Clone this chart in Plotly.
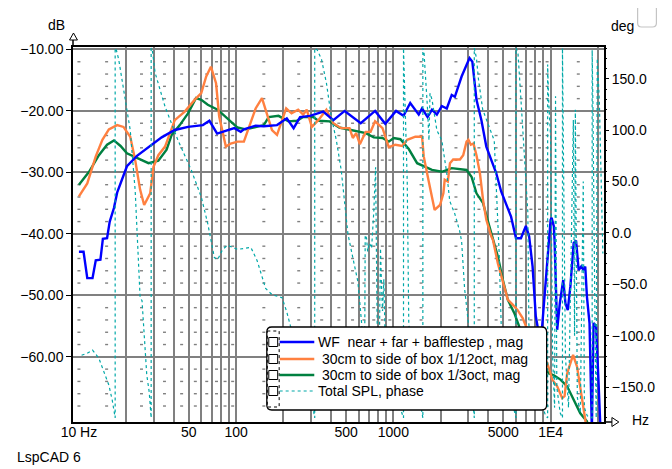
import plotly.graph_objects as go

# --- data ---
wf_freq = [10.0, 10.7, 11.3, 12.2, 12.8, 13.7, 14.2, 15.1, 15.7, 16.7, 17.5, 18.8, 20.2, 23.4,
           27.0, 33.6, 40.7, 49.4, 61.4, 67.6, 75.7, 88.2, 97.3, 107, 112, 133, 150, 182, 210,
           232, 255, 295, 358, 415, 490, 620, 765, 888, 1040, 1160, 1280, 1450, 1522, 1650,
           1760, 1890, 2033, 2186, 2350, 2460, 2716, 3050, 3180, 3377, 3630, 3900, 4194, 4508,
           4848, 5212, 5603, 6024, 6476, 6962, 7300, 7680, 8049, 8651, 9302, 9760, 10000,
           10150, 10490, 10600, 10750, 11010, 11440, 12030, 12427, 12860, 13362, 14020, 14520,
           15080, 15670, 16200, 16608, 17020, 17680, 18300, 18760, 19460, 20110, 21000]
wf_mag = [-42.9, -42.9, -47.2, -47.2, -44.3, -44.2, -40.8, -40.7, -38.0, -35.8, -33.3, -31.2,
          -29.0, -27.3, -26.1, -24.3, -23.1, -22.6, -22.3, -21.6, -23.7, -23.1, -22.8, -23.4,
          -23.0, -22.4, -22.5, -22.3, -21.2, -22.8, -21.0, -20.8, -20.1, -21.5, -20.0, -22.0,
          -20.0, -22.1, -20.0, -20.8, -18.7, -20.6, -19.6, -21.0, -19.8, -20.6, -19.2, -19.6,
          -17.4, -17.7, -14.4, -11.4, -12.0, -18.2, -21.5, -25.8, -28.0, -30.1, -33.1, -35.0,
          -37.2, -40.7, -40.7, -38.7, -40.4, -45.3, -53.4, -58.0, -48.5, -41.0, -37.7, -37.4,
          -38.8, -41.1, -48.5, -55.6, -51.3, -47.5, -51.3, -52.4, -48.5, -41.5, -41.1, -45.9,
          -45.3, -45.9, -45.3, -50.2, -54.5, -72.0, -54.5, -55.1, -63.2, -75.0]

side12_freq = [10.0, 11.3, 12.8, 14.1, 15.5, 17.5, 19.2, 21.2, 22.8, 24.5, 26.0, 28.4, 29.8,
               32.0, 35.3, 40.7, 47.1, 54.4, 60.0, 64.5, 69.1, 74.5, 78, 86, 92.4, 102, 112,
               123, 133, 146, 157, 169, 182, 196, 208, 225, 248, 267, 281, 303, 333, 375, 415,
               466, 526, 552, 580, 612, 667, 716, 765, 853, 935, 1029, 1139, 1225, 1380, 1522,
               1560, 1670, 1830, 1980, 2080, 2120, 2220, 2290, 2400, 2650, 2780, 2920, 3000,
               3110, 3230, 3377, 3550, 3720, 3900, 4194, 4300, 4620, 4970, 5340, 5740, 6170,
               6640, 6962, 7500, 8500, 9530, 10250, 11010, 11850, 12270, 12740, 13900, 14730,
               15830, 16608, 17200]
side12_mag = [-33.9, -31.8, -27.4, -24.7, -23.0, -22.3, -22.6, -24.2, -28.0, -32.8, -35.3,
              -33.4, -29.1, -27.2, -25.8, -21.5, -20.1, -18.2, -17.1, -14.4, -12.8, -15.5,
              -20.9, -25.8, -25.3, -25.0, -25.0, -22.0, -19.6, -17.9, -20.4, -23.1, -23.9,
              -21.5, -19.6, -20.4, -19.8, -20.6, -19.8, -22.6, -21.5, -19.8, -22.0, -22.8,
              -22.8, -24.4, -23.6, -25.4, -23.4, -23.4, -21.7, -22.8, -25.9, -25.5, -25.7,
              -24.7, -24.2, -24.2, -27.4, -31.2, -36.1, -35.3, -33.4, -31.2, -31.5, -28.5,
              -27.9, -27.9, -27.2, -25.0, -24.7, -25.5, -25.3, -27.2, -30.1, -34.5, -37.7,
              -40.4, -41.0, -44.8, -48.0, -50.7, -51.5, -52.4, -53.7, -55.1, -57.0, -59.5,
              -61.0, -63.7, -64.8, -66.7, -66.4, -62.7, -59.7, -61.6, -66.4, -70.2, -73.0]

side3_freq = [10.0, 11.6, 13.4, 15.1, 16.7, 18.4, 20.2, 23.4, 27.7, 32.0, 36.1, 38.9, 43.8,
              49.4, 55.6, 60.0, 66.0, 76.3, 88.2, 102, 115, 133, 150, 161, 186, 215, 243, 267,
              310, 333, 394, 453, 566, 667, 750, 853, 935, 1005, 1108, 1253, 1416, 1605, 1760,
              2033, 2250, 2350, 2920, 3141, 3377, 3720, 4000, 4194, 4620, 4970, 5340, 5880,
              6320, 7000, 8000, 9000, 9760, 10490, 11558, 12740, 14020, 15446, 17020, 17600]
side3_mag = [-32.0, -29.9, -27.2, -25.5, -24.8, -25.7, -26.9, -27.7, -28.5, -28.1, -26.3,
             -23.9, -22.3, -20.4, -17.9, -18.2, -19.0, -19.8, -21.2, -22.7, -23.0, -22.6,
             -22.3, -21.0, -20.8, -21.7, -21.6, -21.0, -21.0, -21.6, -21.7, -22.7, -23.2,
             -23.6, -24.3, -24.4, -25.0, -24.4, -24.6, -26.2, -28.5, -29.1, -29.6, -29.9,
             -29.5, -29.3, -29.6, -30.7, -33.4, -35.0, -38.0, -39.9, -43.7, -47.5, -50.7,
             -52.9, -55.1, -57.5, -59.8, -61.5, -62.7, -63.0, -63.7, -64.8, -67.0, -69.2,
             -70.5, -72.0]

# total SPL phase, wrapped at +/-180 (repeated frequency = wrap)
phase_freq = [10.4, 11.3, 12.2, 13.4, 14.4, 15.5, 16.3, 16.7, 17.0, 17.0, 17.3, 17.9, 20.2,
              21.2, 22.8, 24.5, 25.2, 26.4, 27.0, 28.0, 28.4, 28.8, 28.8, 29.3, 30.5, 35.3,
              42.7, 51.9, 60.0, 66.0, 72.7, 76.3, 82, 88.2, 95, 102, 124, 136, 154, 169, 196,
              210, 221, 250, 280, 300, 316, 316, 328, 349, 375, 403, 434, 466, 490, 514, 552,
              594, 608, 623, 638, 648, 657, 662, 675, 686, 700, 716, 727, 750, 771, 785, 793,
              810, 828, 840, 853, 870, 888, 950, 1050, 1140, 1160, 1160, 1190, 1225, 1253,
              1300, 1400, 1500, 1540, 1540, 1567, 1650, 1684, 1710, 1760, 1891, 2033, 2186,
              2283, 2454, 2638, 2716, 2837, 3006, 3150, 3270, 3270, 3377, 3475, 3700, 4380,
              4709, 4848, 5400, 6024, 6024, 6201, 6476, 6666, 7167, 7272, 8049, 9302, 9575,
              9575, 9714, 10000, 10300, 10600, 10750, 10950, 11500, 11898, 11898, 12100,
              12427, 13000, 13955, 14200, 14366, 14789, 15446, 16133, 16400, 17097, 18381,
              18381, 18600, 19188, 19500, 19800, 20400, 21500]
phase_deg = [-119, -117, -114, -122, -135, -148, -163, -176, -180, 180, 178, 169, 120, 100,
             41, -63, -66, -109, -138, -155, -171, -180, 180, 178, 156, 123, 90, 61, 35, 9,
             -24, -26, -16, -12, -14, -16, -14, -27, -54, -60, -63, -77, -90, -115, -140,
             -160, -180, 180, 178, 169, 146, 113, 90, 61, 32, -1, -24, -47, -63, -79, -100,
             -130, -110, -2, -5, -18, -10, -12, -15, 20, 64, -60, -120, -140, -15, -50, -76,
             -45, -110, -140, -160, -175, -180, 180, 120, 50, -89, -110, -140, -170, -180,
             180, 175, 120, 90, 136, 130, 100, 90, 58, 31, 19, 2, -8, -54, -89, -150, -180,
             180, 170, 150, 120, 90, -20, -89, -150, -180, 180, 175, 130, 100, 20, -89, -150,
             -178, -180, 164, 130, 93, -120, -170, 133, -150, -175, -180, 180, 60, -120, -170,
             110, -100, 120, -160, -175, 50, -170, -178, -180, 178, 120, -100, -180, 170, 130,
             -20]

names = ["WF  near + far + bafflestep , mag", "\u00a030cm to side of box 1/12oct, mag",
         "\u00a030cm to side of box 1/3oct, mag", "Total SPL, phase"]
colors = ["#0000FF", "#FF8040", "#008040", "#00A8A8"]

x_tick_vals = [10, 50, 100, 500, 1000, 5000, 10000]
x_tick_text = ["10 Hz", "50", "100", "500", "1000", "5000", "1E4"]
db_ticks = [-60, -50, -40, -30, -20, -10]
deg_ticks = [-150, -100, -50, 0, 50, 100, 150]
grid_freqs = [m * 10 ** k for k in range(1, 5) for m in range(1, 10) if m * 10 ** k > 10] + [20000]
dash_cols = [10] + [(m + 0.5) * 10 ** k for k in range(1, 5) for m in range(1, 10)]
dash_levels = [v for v in range(-68, -10, 2) if v % 10 != 0]

# the page puts the figure 8px in from the window corner
OX, OY = 8, 8
# plot area in window pixels
L, R, T, B = 67, 604, 47, 422
W, H = R - L, B - T
FONT = "Liberation Sans, Arial, sans-serif"


def px(x):
    return (x - L) / W


def py(y):
    return (B - y) / H


def rrect(x0, y0, x1, y1, r):
    p = lambda x, y: f"{px(x):.5f},{py(y):.5f}"
    return (f"M{p(x0 + r, y0)} L{p(x1 - r, y0)} Q{p(x1, y0)} {p(x1, y0 + r)} "
            f"L{p(x1, y1 - r)} Q{p(x1, y1)} {p(x1 - r, y1)} L{p(x0 + r, y1)} "
            f"Q{p(x0, y1)} {p(x0, y1 - r)} L{p(x0, y0 + r)} Q{p(x0, y0)} {p(x0 + r, y0)} Z")


fig = go.Figure()

# short grey dashes of the minor dB grid
half = 10 ** 0.0095
dx, dy = [], []
for lv in dash_levels:
    for c in dash_cols:
        dx += [c / half, c * half, None]
        dy += [lv, lv, None]
fig.add_trace(go.Scatter(x=dx, y=dy, mode="lines", line=dict(color="#808080", width=1.4),
                         hoverinfo="skip", showlegend=False))

fig.add_trace(go.Scatter(x=side3_freq, y=side3_mag, name=names[2], mode="lines",
                         line=dict(color=colors[2], width=2.4)))
fig.add_trace(go.Scatter(x=side12_freq, y=side12_mag, name=names[1], mode="lines",
                         line=dict(color=colors[1], width=2.4)))
fig.add_trace(go.Scatter(x=wf_freq, y=wf_mag, name=names[0], mode="lines",
                         line=dict(color=colors[0], width=2.4)))
fig.add_trace(go.Scatter(x=phase_freq, y=phase_deg, name=names[3], mode="lines", yaxis="y2",
                         line=dict(color=colors[3], width=1.2, dash="3px,3px")))

shapes = []
# legend box, drawn by hand to match the LspCAD look
shapes.append(dict(type="path", path=rrect(263, 327, 546, 410, 5), xref="paper", yref="paper",
                   fillcolor="white", line=dict(color="black", width=1.3), layer="above"))
shapes.append(dict(type="rect", xref="paper", yref="paper", x0=px(263.5), x1=px(275.5),
                   y0=py(331), y1=py(407), line=dict(color="black", width=1, dash="dot"),
                   layer="above"))
rows = [342, 359, 375, 391]
annotations = []
for i, ry in enumerate(rows):
    shapes.append(dict(type="rect", xref="paper", yref="paper", x0=px(265), x1=px(274),
                       y0=py(ry + 4.5), y1=py(ry - 4.5), line=dict(color="black", width=1),
                       fillcolor="white", layer="above"))
    dash = "3px,3px" if i == 3 else "solid"
    shapes.append(dict(type="line", xref="paper", yref="paper", x0=px(276), x1=px(311),
                       y0=py(ry), y1=py(ry), layer="above",
                       line=dict(color=colors[i], width=1.2 if i == 3 else 2.4, dash=dash)))
    annotations.append(dict(text=names[i], xref="paper", yref="paper", x=px(313), y=py(ry),
                            xanchor="left", yanchor="middle", showarrow=False,
                            font=dict(family=FONT, size=14, color="black")))

# axis arrows and extensions
shapes.append(dict(type="line", xref="paper", yref="paper", x0=0, x1=0, y0=1, y1=py(40),
                   line=dict(color="black", width=1.5)))
shapes.append(dict(type="path", xref="paper", yref="paper",
                   path=f"M{px(63.5)},{py(40)} L{px(71.5)},{py(40)} L{px(67.5)},{py(33)} Z",
                   fillcolor="white", line=dict(color="black", width=1)))
shapes.append(dict(type="line", xref="paper", yref="paper", x0=1, x1=px(612), y0=0, y1=0,
                   line=dict(color="black", width=1.5)))
shapes.append(dict(type="path", xref="paper", yref="paper",
                   path=f"M{px(612)},{py(417.5)} L{px(612)},{py(426.5)} L{px(619)},{py(422)} Z",
                   fillcolor="white", line=dict(color="black", width=1)))
shapes.append(dict(type="path", path=rrect(638, 5, 657, 27, 4), xref="paper", yref="paper",
                   fillcolor="white", line=dict(color="#c4c4c4", width=1.2)))

for txt, x, y, anc in [("dB", 50, 25, "center"), ("deg", 623, 26, "center"),
                       ("Hz", 641, 420, "center"), ("LspCAD 6", 8, 457, "left")]:
    annotations.append(dict(text=txt, xref="paper", yref="paper", x=px(x), y=py(y),
                            xanchor=anc, yanchor="middle", showarrow=False,
                            font=dict(family=FONT, size=14, color="black")))

fig.update_layout(
    width=672 - OX, height=469 - OY,
    margin=dict(l=L - OX, r=672 - R, t=T - OY, b=469 - B, pad=0),
    paper_bgcolor="white", plot_bgcolor="white",
    showlegend=False,
    font=dict(family=FONT, size=14, color="black"),
    shapes=shapes, annotations=annotations,
    xaxis=dict(type="log", range=[0.9623, 4.3396], tickvals=x_tick_vals, ticktext=x_tick_text,
               ticks="", showgrid=False, zeroline=False, showline=True, mirror=True,
               linecolor="black", linewidth=1.5, tickfont=dict(size=14),
               ticklabelstandoff=-4,
               minor=dict(tickvals=grid_freqs, showgrid=True, gridcolor="#808080",
                          gridwidth=1.5, ticks="")),
    yaxis=dict(range=[-70.6, -9.6], tickvals=db_ticks, tickformat=".2f", ticks="outside",
               ticklen=5, tickcolor="black", showgrid=True, gridcolor="#808080", gridwidth=1.5,
               zeroline=False, showline=True, mirror=True, linecolor="black", linewidth=1.5,
               tickfont=dict(size=14)),
    yaxis2=dict(overlaying="y", side="right", range=[-184, 181], tickvals=deg_ticks,
                tickformat=".1f", ticks="outside", ticklen=4, tickcolor="black",
                showgrid=False, zeroline=False, showline=False, tickfont=dict(size=14),
                minor=dict(dtick=10, ticks="outside", ticklen=2, tickcolor="black")),
)

fig.write_html("out.html")
